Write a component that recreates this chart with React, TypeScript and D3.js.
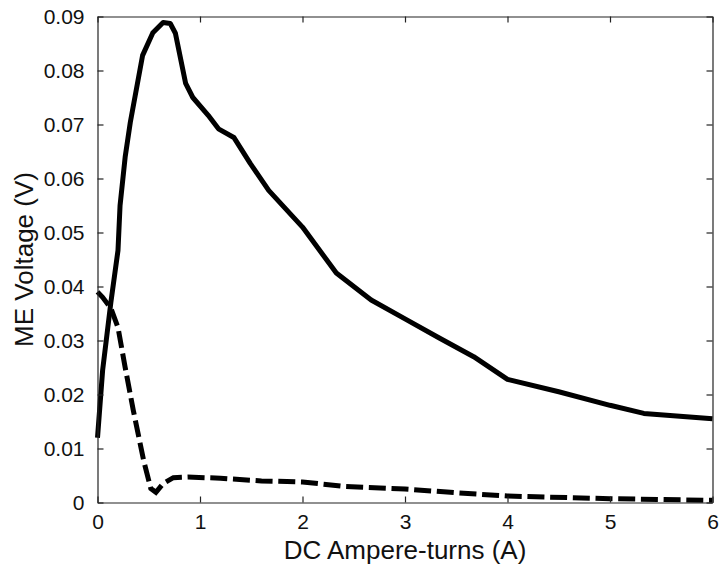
import React, { useEffect, useRef } from 'react';
import * as d3 from 'd3';

// solid curve (upper) and dashed curve (lower)
const solidX = [0, 0.05, 0.13, 0.2, 0.22, 0.27, 0.32, 0.44, 0.54, 0.64, 0.71, 0.76, 0.86, 0.93, 1.08, 1.18, 1.33, 1.49, 1.67, 2.0, 2.33, 2.67, 3.0, 3.33, 3.67, 4.0, 4.5, 5.0, 5.33, 6.0];
const solidY = [0.012, 0.0245, 0.037, 0.0467, 0.055, 0.064, 0.0704, 0.0828, 0.087, 0.0889, 0.0887, 0.0869, 0.0776, 0.075, 0.0717, 0.0692, 0.0676, 0.0628, 0.0578, 0.051, 0.0425, 0.0375, 0.034, 0.0305, 0.027, 0.0228, 0.0205, 0.018, 0.0165, 0.0155];

const dashX = [0, 0.05, 0.13, 0.2, 0.27, 0.35, 0.45, 0.52, 0.57, 0.64, 0.74, 0.88, 1.2, 1.6, 2.0, 2.4, 3.0, 3.5, 4.0, 5.0, 6.0];
const dashY = [0.039, 0.038, 0.036, 0.0324, 0.025, 0.017, 0.0078, 0.0026, 0.0019, 0.0035, 0.0046, 0.0047, 0.0045, 0.004, 0.0038, 0.003, 0.0025, 0.0018, 0.0012, 0.0007, 0.0004];

const xTicks = [0, 1, 2, 3, 4, 5, 6];
const yTicks = [0, 0.01, 0.02, 0.03, 0.04, 0.05, 0.06, 0.07, 0.08, 0.09];

const W = 721;
const H = 572;

export default function App() {
  const svgRef = useRef<SVGSVGElement>(null);

  useEffect(() => {
    if (!svgRef.current) return;
    const svg = d3.select(svgRef.current);
    svg.selectAll('*').remove();

    const margin = { top: 16.5, right: 8.5, bottom: 69.5, left: 97.5 };
    const x = d3.scaleLinear().domain([0, 6]).range([margin.left, W - margin.right]);
    const y = d3.scaleLinear().domain([0, 0.09]).range([H - margin.bottom, margin.top]);
    const font = '"Liberation Sans", Arial, sans-serif';
    const tick = 6;

    const line = d3.line<[number, number]>().x(d => x(d[0])).y(d => y(d[1]));

    // curves
    svg.append('path')
      .datum(solidX.map((v, i) => [v, solidY[i]] as [number, number]))
      .attr('d', line)
      .attr('fill', 'none')
      .attr('stroke', '#000')
      .attr('stroke-width', 5)
      .attr('stroke-linejoin', 'round');

    svg.append('path')
      .datum(dashX.map((v, i) => [v, dashY[i]] as [number, number]))
      .attr('d', line)
      .attr('fill', 'none')
      .attr('stroke', '#000')
      .attr('stroke-width', 5)
      .attr('stroke-dasharray', '17,5.7');

    // bottom / left axes with inward ticks
    const bottom = svg.append('g')
      .attr('transform', `translate(0,${y(0)})`)
      .call(d3.axisBottom(x).tickValues(xTicks).tickSizeInner(-tick).tickSizeOuter(0).tickPadding(12).tickFormat(d => `${d}`));
    const left = svg.append('g')
      .attr('transform', `translate(${x(0)},0)`)
      .call(d3.axisLeft(y).tickValues(yTicks).tickSizeInner(-tick).tickSizeOuter(0).tickPadding(13).tickFormat(d => (d === 0 ? '0' : d3.format('.2f')(d as number))));
    const top = svg.append('g')
      .attr('transform', `translate(0,${y(0.09)})`)
      .call(d3.axisTop(x).tickValues(xTicks).tickSizeInner(-tick).tickSizeOuter(0).tickFormat(() => ''));
    const right = svg.append('g')
      .attr('transform', `translate(${x(6)},0)`)
      .call(d3.axisRight(y).tickValues(yTicks).tickSizeInner(-tick).tickSizeOuter(0).tickFormat(() => ''));

    [bottom, left, top, right].forEach(g => {
      g.select('.domain').attr('stroke', '#222').attr('stroke-width', 1.2);
      g.selectAll('.tick line').attr('stroke', '#222').attr('stroke-width', 1.2);
      g.selectAll('text').attr('font-family', font).attr('font-size', 21).attr('fill', '#111');
    });

    svg.append('text')
      .attr('x', (x(0) + x(6)) / 2)
      .attr('y', 559)
      .attr('text-anchor', 'middle')
      .attr('font-family', font)
      .attr('font-size', 26)
      .attr('fill', '#111')
      .text('DC Ampere-turns (A)');

    svg.append('text')
      .attr('transform', `translate(33,${(y(0) + y(0.09)) / 2}) rotate(-90)`)
      .attr('text-anchor', 'middle')
      .attr('font-family', font)
      .attr('font-size', 26)
      .attr('fill', '#111')
      .text('ME Voltage (V)');
  }, []);

  return (
    <svg
      ref={svgRef}
      width={W}
      height={H}
      style={{ position: 'absolute', left: 0, top: 0, background: '#fff' }}
    ></svg>
  );
}
